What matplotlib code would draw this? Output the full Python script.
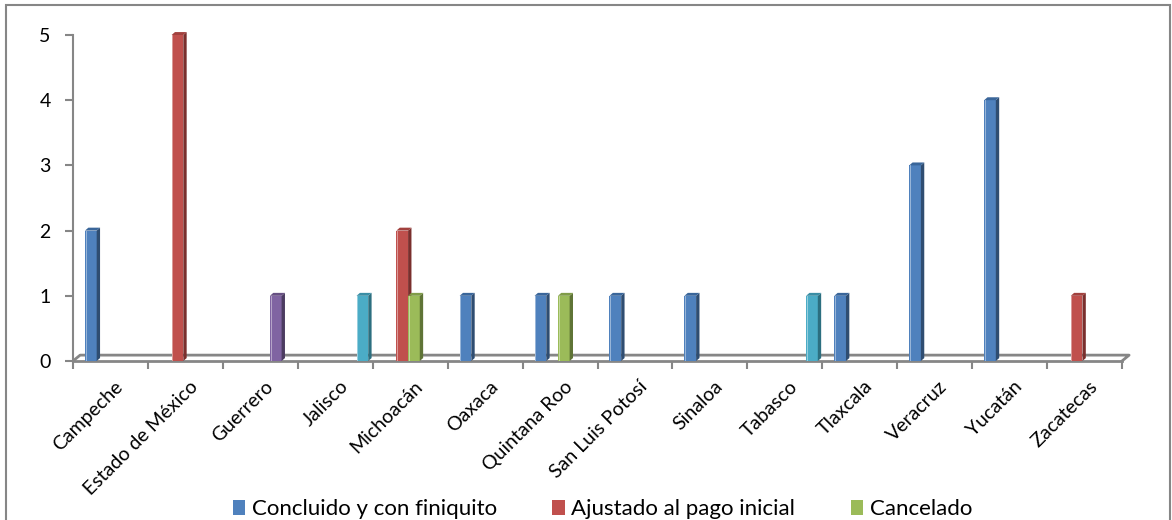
import matplotlib.pyplot as plt
import numpy as np
import matplotlib.transforms as mt
from matplotlib.patches import Rectangle, Polygon

plt.rcParams['font.family'] = ['Lato', 'DejaVu Sans']

estados = ['Campeche', 'Estado de México', 'Guerrero', 'Jalisco', 'Michoacán',
           'Oaxaca', 'Quintana Roo', 'San Luis Potosí', 'Sinaloa', 'Tabasco',
           'Tlaxcala', 'Veracruz', 'Yucatán', 'Zacatecas']
concluido = [2, 0, 0, 0, 0, 1, 1, 1, 1, 0, 1, 3, 4, 0]
ajustado = [0, 5, 0, 0, 2, 0, 0, 0, 0, 0, 0, 0, 0, 1]
cancelado = [0, 0, 0, 0, 1, 0, 1, 0, 0, 0, 0, 0, 0, 0]
serie4 = [0, 0, 1, 0, 0, 0, 0, 0, 0, 0, 0, 0, 0, 0]
serie5 = [0, 0, 0, 1, 0, 0, 0, 0, 0, 1, 0, 0, 0, 0]
nombres = ['Concluido y con finiquito', 'Ajustado al pago inicial', 'Cancelado', None, None]

series = [concluido, ajustado, cancelado, serie4, serie5]
colores = ['#4F81BD', '#C0504D', '#9BBB59', '#8064A2', '#4BACC6']
oscuros = ['#2F4D71', '#7A2F2D', '#5F7436', '#4C3C61', '#2C6F80']
claros = ['#3A669A', '#A2413E', '#809C48', '#675083', '#3A8EA5']

fig = plt.figure(figsize=(11.72, 5.2), dpi=100)
ax = fig.add_axes([73 / 1172, 159 / 520, 1049 / 1172, 326 / 520])

x = np.arange(len(estados))
w = 0.156
dx, dy = 0.045, 0.045
gris = '#868686'

# suelo 3D
fx, fy = 0.095, 0.09
ax.plot([-0.5, -0.5 + fx, len(estados) - 0.5 + fx, len(estados) - 0.5],
        [0, fy, fy, 0], color=gris, lw=2, zorder=1, clip_on=False)

for j, vals in enumerate(series):
    pos = x - 0.262 + w * j
    vals = np.array(vals, dtype=float)
    m = vals > 0
    ax.bar(pos[m], vals[m], width=w, color=colores[j], zorder=3,
           edgecolor='none', clip_on=False, label=nombres[j])
    for xc, v in zip(pos[m], vals[m]):
        r = xc + w / 2
        l = xc - w / 2
        ax.add_patch(Polygon([(r, 0), (r + dx, dy), (r + dx, v + dy), (r, v)],
                             closed=True, fc=oscuros[j], ec='none', zorder=3, clip_on=False))
        ax.add_patch(Polygon([(l, v), (l + dx, v + dy), (r + dx, v + dy), (r, v)],
                             closed=True, fc=claros[j], ec='none', zorder=3, clip_on=False))
        ax.plot([l + 0.01, l + 0.01], [0, v], color='white', lw=0.6, alpha=0.5, zorder=4)

ax.set_xlim(-0.5, len(estados) - 0.5)
ax.set_ylim(0, 5)
ax.set_yticks(range(6))
ax.set_xticks(np.arange(len(estados) + 1) - 0.5)
ax.set_xticklabels([])
ax.set_xticks(x, minor=True)
ax.set_xticklabels(estados, minor=True, rotation=45, ha='right', va='top',
                   rotation_mode='anchor', fontsize=14)
ax.tick_params(axis='x', which='minor', length=0, pad=12)
ax.tick_params(axis='x', which='major', length=6, color=gris, width=1.5)
ax.tick_params(axis='y', length=6, color=gris, width=1.5, labelsize=14, pad=10)
off = mt.ScaledTranslation(4 / 100, 0, fig.dpi_scale_trans)
for lab in ax.get_xticklabels(minor=True):
    lab.set_transform(lab.get_transform() + off)

for s in ['top', 'right']:
    ax.spines[s].set_visible(False)
ax.spines['left'].set_color(gris)
ax.spines['bottom'].set_color(gris)
ax.spines['left'].set_linewidth(1.5)
ax.spines['bottom'].set_linewidth(2)

h, l = ax.get_legend_handles_labels()
fig.legend(h[:3], l[:3], loc='center', bbox_to_anchor=(0.514, 11 / 520), ncol=3,
           frameon=False, fontsize=16, handlelength=0.55, handleheight=0.65,
           handletextpad=0.3, columnspacing=2.5, borderaxespad=0)

fig.patches.append(Rectangle((6 / 1172, -0.1), 1164 / 1172, 1.1 - 5 / 520,
                             transform=fig.transFigure, fill=False, ec=gris, lw=1.5))

fig.savefig('out.png', dpi=100)
